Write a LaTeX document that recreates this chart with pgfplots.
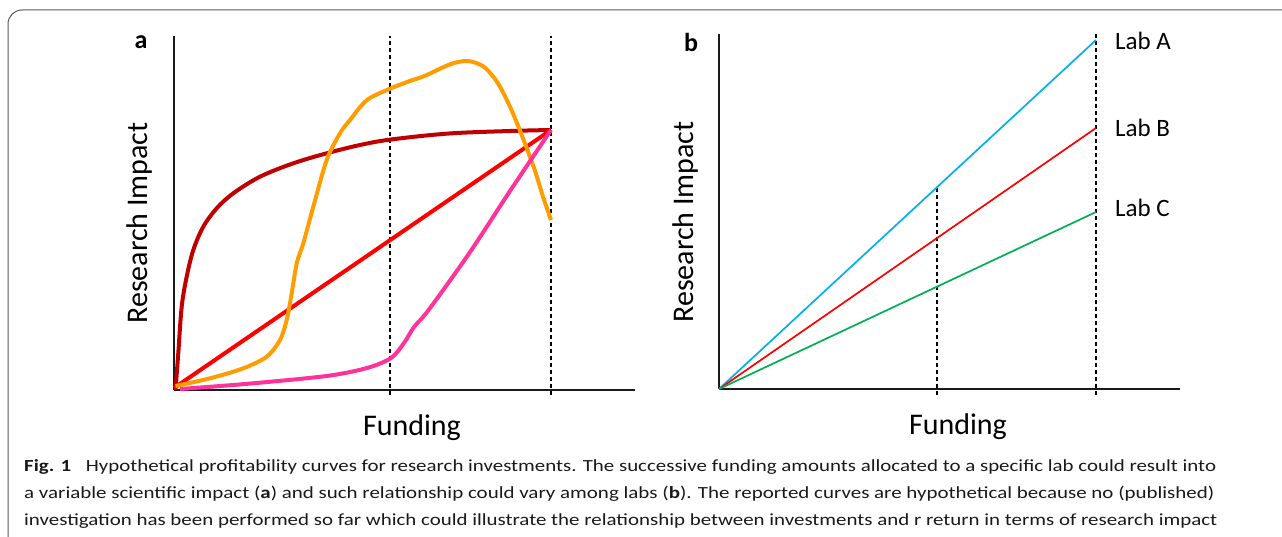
\documentclass[border=0pt]{standalone}
\usepackage{pgfplots}
\pgfplotsset{compat=1.18}
\usepackage{graphicx}
\usepackage{fontspec}
\setmainfont{Carlito}
\definecolor{cdarkred}{HTML}{C00000}
\definecolor{cred}{HTML}{FF0000}
\definecolor{corange}{HTML}{FF9C00}
\definecolor{cpink}{HTML}{FF3399}
\definecolor{ccyan}{HTML}{00B0F0}
\definecolor{cgreen}{HTML}{00B050}
\definecolor{caxis}{HTML}{1A1A1A}
\pgfplotsset{
  panel/.style={scale only axis, anchor=south west, width=461pt,
    xmin=0, xmax=461, ymin=0, axis lines=left,
    axis line style={-, line width=1.7pt, caxis}, ticks=none, clip=false},
  vdash/.style={line width=1.2pt, black, dash pattern=on 4pt off 3pt},
}
\begin{document}
\begin{tikzpicture}[x=1pt,y=1pt]
\useasboundingbox (0,0) rectangle (1282,536);
\begin{scope}
\clip (0,0) rectangle (1282,536);
\draw[line width=1pt, black!65, rounded corners=14pt] (8,526) rectangle (1330,-40);
\end{scope}

% ---------- panel a ----------
\begin{axis}[panel, at={(174pt,146pt)}, height=354pt, ymax=354]
\addplot[vdash] coordinates {(216,-5) (216,354)};
\addplot[vdash] coordinates {(377,-5) (377,354)};
\addplot[cdarkred, line width=4pt, smooth, tension=0.55] coordinates {
 (1.5,0) (4.3,37) (7.7,83.3) (12.7,113.3) (19.3,140) (29.3,163.3) (42.7,181.7)
 (59.3,196.7) (86,213.3) (119.3,226.7) (152.7,236.7) (186,245) (217,250.5)
 (275,256.5) (336,259) (377,260)};
\addplot[cred, line width=4pt] coordinates {(0,2) (377,260)};
\addplot[corange, line width=4pt, smooth, tension=0.5] coordinates {
 (1.5,4) (36,11.7) (69.3,21.7) (92.7,33.3) (106,50) (112.7,70) (117.7,96.7)
 (122.7,126.7) (129.3,146.7) (139.3,183.3) (152.7,230) (166,256.7) (176,270)
 (193,290) (217,301.7) (234,308.3) (250.5,314)
 (266.8,321.7) (279,326.7) (291.3,329) (301.5,327.3) (311.7,321.7) (324,306.7)
 (336,283.3) (348.4,253.3) (360.7,220) (369,193.3) (377,170)};
\addplot[cpink, line width=4pt, smooth, tension=0.5] coordinates {
 (6,1) (71,6) (152.5,14) (193,22) (217,32) (230,47) (240,63) (254.6,80)
 (295.4,137) (336,199) (377,260)};
\end{axis}

% ---------- panel b ----------
\begin{axis}[panel, at={(719pt,147pt)}, height=355pt, ymax=355]
\addplot[vdash] coordinates {(218,-6) (218,202)};
\addplot[vdash] coordinates {(377,-6) (377,355)};
\addplot[ccyan, line width=1.7pt] coordinates {(0,0) (377,349)};
\addplot[cred, line width=1.7pt] coordinates {(0,0) (377,261)};
\addplot[cgreen, line width=1.7pt] coordinates {(0,0) (377,177)};
\node[anchor=west, font=\fontsize{25}{30}\selectfont, inner sep=0pt] at (axis cs:396,348) {Lab A};
\node[anchor=west, font=\fontsize{25}{30}\selectfont, inner sep=0pt] at (axis cs:396,261) {Lab B};
\node[anchor=west, font=\fontsize{25}{30}\selectfont, inner sep=0pt] at (axis cs:396,181) {Lab C};
\end{axis}

% ---------- labels ----------
\node[font=\fontsize{26}{30}\selectfont\bfseries, inner sep=0pt] at (141,494) {a};
\node[font=\fontsize{26}{30}\selectfont\bfseries, inner sep=0pt] at (691,494) {b};
\node[rotate=90, font=\fontsize{30}{36}\selectfont, inner sep=0pt] at (139,313) {Research Impact};
\node[rotate=90, font=\fontsize{30}{36}\selectfont, inner sep=0pt] at (685,314) {Research Impact};
\node[font=\fontsize{30}{36}\selectfont, inner sep=0pt] at (412,108) {Funding};
\node[font=\fontsize{30}{36}\selectfont, inner sep=0pt] at (958,109) {Funding};

% ---------- caption ----------
\begin{scope}[every node/.style={anchor=base west, inner sep=0pt, font=\fontsize{17}{22}\selectfont, text=black!90}]
\node at (24,65) {\resizebox{1192pt}{\height}{\textbf{Fig. 1}\hspace{0.7em}Hypothetical profitability curves for research investments. The successive funding amounts allocated to a specific lab could result into}};
\node at (24,38) {\resizebox{1190pt}{\height}{a variable scientific impact (\textbf{a}) and such relationship could vary among labs (\textbf{b}). The reported curves are hypothetical because no (published)}};
\node at (24,11) {\resizebox{1193pt}{\height}{investigation has been performed so far which could illustrate the relationship between investments and r return in terms of research impact}};
\end{scope}
\end{tikzpicture}
\end{document}
